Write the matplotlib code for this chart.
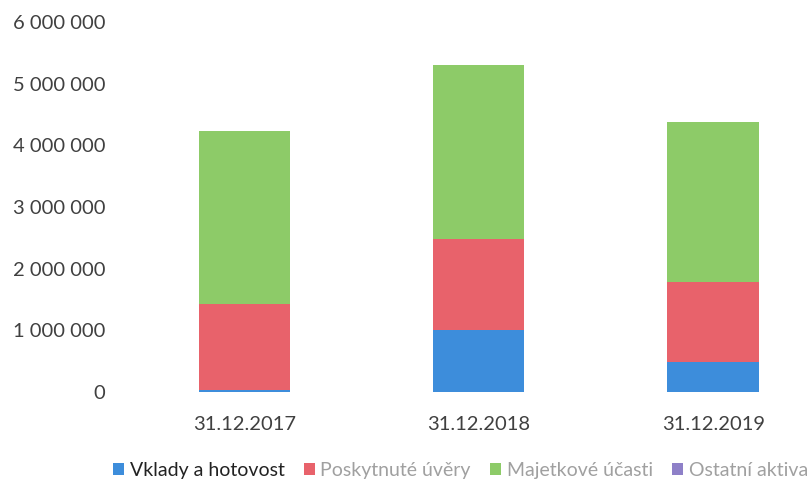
import numpy as np
import matplotlib.pyplot as plt
from matplotlib.ticker import FuncFormatter

plt.rcParams['font.family'] = ['Lato', 'DejaVu Sans']

# Data
categories = ['31.12.2017', '31.12.2018', '31.12.2019']
vklady = [30000, 1000000, 490000]
uvery = [1400000, 1480000, 1290000]
ucasti = [2800000, 2820000, 2600000]
ostatni = [5000, 5000, 5000]

series = [
    ('Vklady a hotovost', vklady, '#3d8ddb'),
    ('Poskytnuté úvěry', uvery, '#e8626b'),
    ('Majetkové účasti', ucasti, '#8dcb68'),
    ('Ostatní aktiva', ostatni, '#8e80c8'),
]

fig = plt.figure(figsize=(8.11, 4.86), dpi=100)
ax = fig.add_axes([0.157, 0.193, 0.835, 0.762])

x = np.arange(len(categories))
bottom = np.zeros(len(categories))
for name, vals, col in series:
    ax.bar(x, vals, width=0.39, bottom=bottom, color=col, label=name)
    bottom += np.array(vals)

ax.set_xlim(-0.5, 2.39)
ax.set_ylim(0, 6000000)
ax.set_yticks(np.arange(0, 6000001, 1000000))
ax.yaxis.set_major_formatter(FuncFormatter(lambda v, p: f'{int(v):,}'.replace(',', ' ')))
ax.set_xticks(x)
ax.set_xticklabels(categories)
ax.tick_params(axis='both', length=0, labelsize=14.5, colors='#404040')
ax.tick_params(axis='y', pad=16)
ax.tick_params(axis='x', pad=17)
for s in ax.spines.values():
    s.set_visible(False)

leg = fig.legend(loc='lower center', bbox_to_anchor=(0.568, -0.022), ncol=4, frameon=False,
                 fontsize=14, handlelength=0.55, handleheight=0.55, handletextpad=0.3,
                 columnspacing=1.0)
for i, t in enumerate(leg.get_texts()):
    t.set_color('#222222' if i == 0 else '#a0a0a0')

fig.savefig('out.png', dpi=100)
